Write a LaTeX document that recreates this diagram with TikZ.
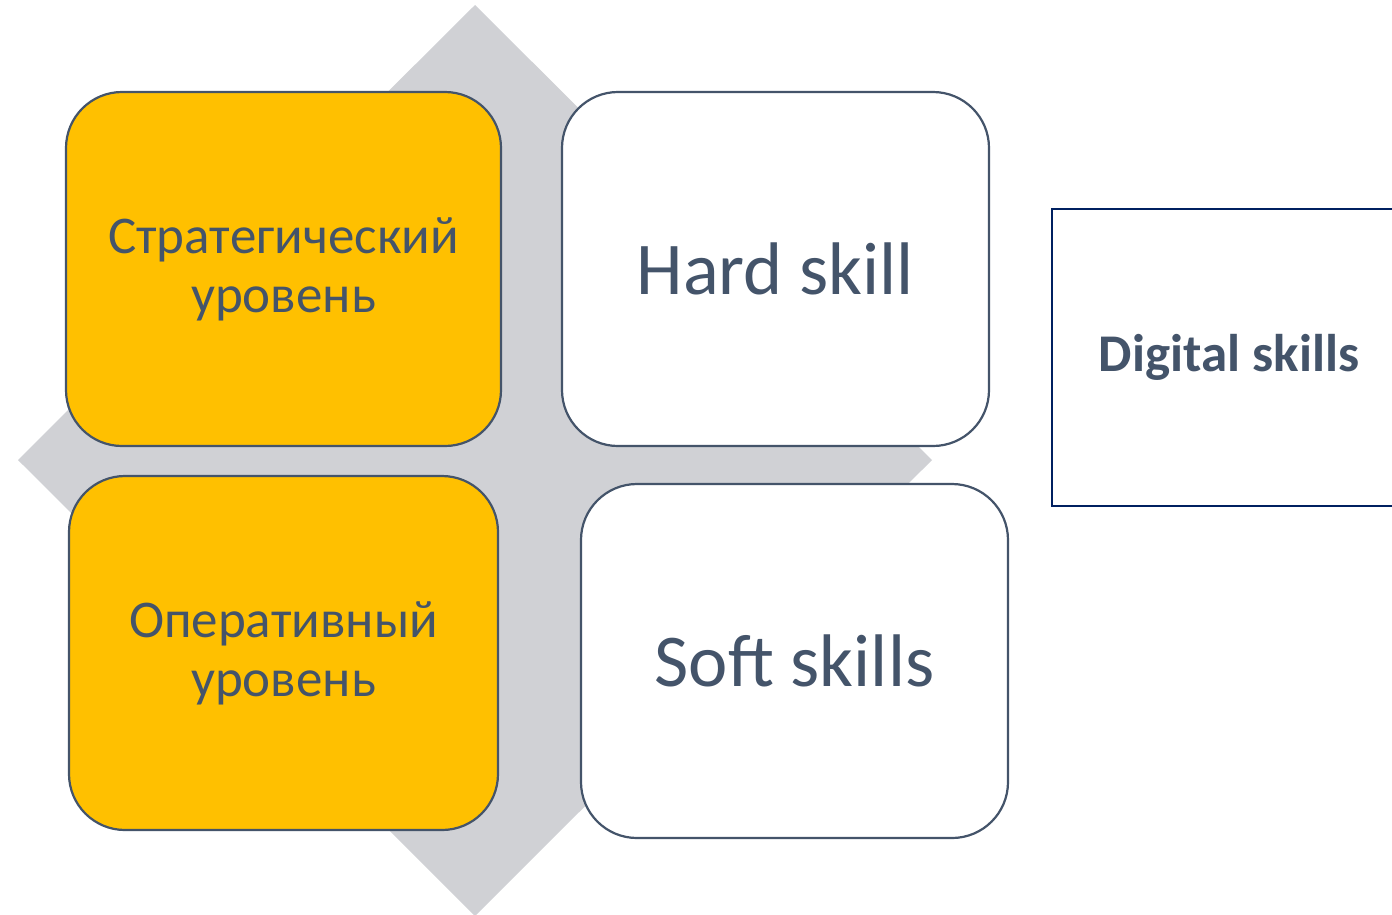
\documentclass[tikz,border=0pt]{standalone}
\usepackage{fontspec}
\setmainfont{Carlito}
\definecolor{txt}{HTML}{44546A}
\definecolor{gold}{HTML}{FFC000}
\definecolor{diam}{RGB}{208,209,213}
\definecolor{navy}{HTML}{002060}
\begin{document}
\begin{tikzpicture}[x=1pt,y=-1pt,
  card/.style={draw=txt, line width=2.2pt, rounded corners=56pt, minimum height=354pt, align=center, text=txt, inner sep=0pt},
  goldcard/.style={card, fill=gold, font=\fontsize{53}{59}\selectfont},
  whitecard/.style={card, fill=white, minimum width=427pt, font=\fontsize{74.5}{80}\selectfont},
  digbox/.style={draw=navy, line width=2pt, fill=white, minimum width=354pt, minimum height=297pt, text=txt, font=\bfseries\fontsize{53}{60}\selectfont, inner sep=0pt}
]
\clip (0,0) rectangle (1392,914);
\fill[white] (0,0) rectangle (1392,914);
\fill[diam] (475,5) -- (932,460) -- (475,916) -- (18,460) -- cycle;
\node[goldcard, minimum width=435pt] (strat) at (283.5,269) {Стратегический\\уровень};
\node[goldcard, minimum width=429pt] (oper) at (283.5,653) {Оперативный\\уровень};
\node[whitecard] (hard) at (775.5,269) {Hard skill};
\node[whitecard] (soft) at (794.5,661) {Soft skills};
\node[digbox] (dig) at (1229,357) {Digital skills};
\end{tikzpicture}
\end{document}
